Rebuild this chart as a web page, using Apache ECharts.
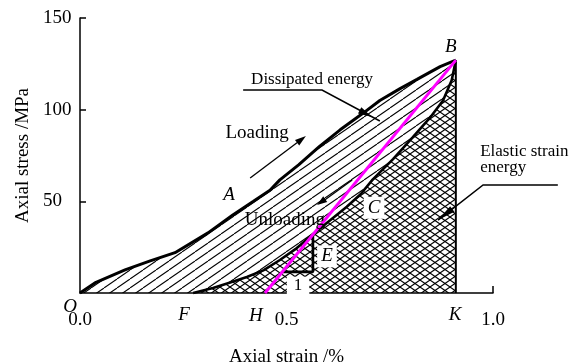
<!DOCTYPE html>
<html>
<head>
<meta charset="utf-8">
<script src="https://cdn.jsdelivr.net/npm/echarts@6/dist/echarts.min.js"></script>
<style>
html,body{margin:0;padding:0;background:#fff}
#c{width:581px;height:364px}
</style>
</head>
<body>
<div id="c"></div>
<script>
// Loading branch O -> B  [axial strain %, axial stress MPa]
const loadingCurve = [
  [0, 0], [0.036, 5.5], [0.109, 12.6], [0.17, 17.5], [0.23, 22], [0.31, 32.8],
  [0.37, 42.6], [0.42, 50], [0.46, 56], [0.484, 61.7], [0.53, 70], [0.58, 80],
  [0.63, 89], [0.685, 98], [0.726, 105], [0.775, 111.5], [0.816, 116.5],
  [0.872, 123.5], [0.91, 127]
];
// Unloading branch F -> B
const unloadingCurve = [
  [0.274, 0], [0.322, 2.7], [0.36, 5.5], [0.404, 8.7], [0.445, 12.5], [0.484, 18],
  [0.525, 24.5], [0.564, 32], [0.605, 39.5], [0.646, 47], [0.68, 54], [0.709, 62],
  [0.758, 73], [0.806, 85], [0.847, 95.5], [0.879, 105], [0.90, 116], [0.91, 127]
];
// Secant H -> B
const secantLine = [[0.448, 0], [0.91, 127]];
// Drop from peak B to K on the strain axis
const peakDrop = [[0.91, 127], [0.91, 0]];
// Slope triangle on the secant
const slopeTriangle = [[0.49, 11.5], [0.564, 11.5], [0.564, 32.5]];

const xTickValues = [0, 0.5, 1];
const yTickValues = [50, 100, 150];

// Point letters [text, strain, stress, boxed]
const pointLabels = [
  ['O', -0.024, -7.5, false],
  ['F', 0.252, -11.8, false],
  ['H', 0.426, -12.3, false],
  ['K', 0.908, -11.8, false],
  ['B', 0.898, 134.2, false],
  ['A', 0.361, 53.4, false],
  ['C', 0.712, 46.5, true],
  ['E', 0.598, 20.0, true]
];
const triangleLabel = ['1', 0.528, 4.0];

const SERIF = '"Liberation Serif","Times New Roman","DejaVu Serif",serif';

function hatchTile(w, h, cross) {
  const c = document.createElement('canvas');
  c.width = w; c.height = h;
  const g = c.getContext('2d');
  g.strokeStyle = '#000';
  g.lineWidth = 1.1;
  const line = (x0, y0, x1, y1) => { g.beginPath(); g.moveTo(x0, y0); g.lineTo(x1, y1); g.stroke(); };
  for (const dx of [-w, 0, w]) line(dx, h, dx + w, 0);
  if (cross) for (const dx of [-w, 0, w]) line(dx, 0, dx + w, h);
  return c;
}
const singleHatch = hatchTile(13, 9, false);
const crossHatch = hatchTile(10, 7, true);

const K = peakDrop[1][0];
const regions = [
  { pts: loadingCurve.concat(unloadingCurve.slice().reverse()), tile: singleHatch },
  { pts: unloadingCurve.concat([[K, 0]]), tile: crossHatch }
];

const chart = echarts.init(document.getElementById('c'), null, { renderer: 'canvas' });

const thick = (data, color, width, z) => ({
  type: 'line', data: data, showSymbol: false, symbol: 'none', silent: true,
  lineStyle: { color: color, width: width }, z: z, clip: false
});

chart.setOption({
  animation: false,
  grid: { left: 80, right: 88, top: 18, bottom: 71, containLabel: false, outerBoundsMode: 'none' },
  xAxis: {
    type: 'value', min: 0, max: 1, interval: 0.5,
    axisLine: { lineStyle: { color: '#000', width: 1.5 } },
    axisTick: { show: true, inside: true, length: 7, customValues: [1], lineStyle: { color: '#000', width: 1.5 } },
    axisLabel: { customValues: xTickValues, formatter: v => v.toFixed(1), color: '#000', fontSize: 19, fontFamily: SERIF, margin: 18 },
    splitLine: { show: false },
    name: 'Axial strain /%', nameLocation: 'middle', nameGap: 55,
    nameTextStyle: { color: '#000', fontSize: 19, fontFamily: SERIF }
  },
  yAxis: {
    type: 'value', min: 0, max: 150, interval: 50,
    axisLine: { show: true, lineStyle: { color: '#000', width: 1.5 } },
    axisTick: { show: true, inside: true, length: 6, customValues: yTickValues, lineStyle: { color: '#000', width: 1.5 } },
    axisLabel: { customValues: yTickValues, align: 'left', margin: 37, color: '#000', fontSize: 19, fontFamily: SERIF },
    splitLine: { show: false },
    name: 'Axial stress /MPa', nameLocation: 'middle', nameGap: 44,
    nameTextStyle: { color: '#000', fontSize: 19, fontFamily: SERIF }
  },
  series: [
    {
      type: 'custom', coordinateSystem: 'cartesian2d', silent: true, z: 1,
      data: [[0, 0], [1, 0]],
      renderItem: (params, api) => {
        const r = regions[params.dataIndex];
        return {
          type: 'polygon',
          shape: { points: r.pts.map(p => api.coord(p)) },
          style: { fill: { image: r.tile, repeat: 'repeat' }, stroke: null }
        };
      }
    },
    thick(peakDrop, '#000', 2, 4),
    thick(unloadingCurve, '#000', 2.6, 5),
    thick(loadingCurve, '#000', 3, 5),
    thick(slopeTriangle, '#000', 2.6, 5),
    thick(secantLine, '#ff00ff', 3, 6)
  ]
});

// Annotations placed in data coordinates
const P = p => chart.convertToPixel({ gridIndex: 0 }, p);

function arrowHead(tip, from, len, half) {
  const t = P(tip), f = P(from);
  const dx = t[0] - f[0], dy = t[1] - f[1];
  const d = Math.hypot(dx, dy), ux = dx / d, uy = dy / d;
  const bx = t[0] - ux * len, by = t[1] - uy * len;
  return {
    type: 'polygon', z: 10,
    shape: { points: [t, [bx - uy * half, by + ux * half], [bx + uy * half, by - ux * half]] },
    style: { fill: '#000' }
  };
}
function polyline(pts, w) {
  return { type: 'polyline', z: 10, shape: { points: pts.map(P) }, style: { stroke: '#000', lineWidth: w, fill: null } };
}
function text(str, p, size, opts) {
  const q = P(p);
  return {
    type: 'text', x: q[0], y: q[1], z: 10,
    style: Object.assign({ text: str, fill: '#000', font: size + 'px ' + SERIF, align: 'center', verticalAlign: 'middle' }, opts || {})
  };
}

const elements = [];
// leader lines
elements.push(polyline([[0.395, 110.7], [0.586, 110.7], [0.726, 93.8]], 1.5));
elements.push(arrowHead([0.707, 96.0], [0.586, 110.7], 14, 3.5));
elements.push(polyline([[1.157, 58.9], [0.976, 58.9], [0.867, 39.8]], 1.5));
elements.push(arrowHead([0.867, 39.8], [0.976, 58.9], 18, 3.5));
// loading / unloading arrows
elements.push(polyline([[0.412, 62.7], [0.535, 83.6]], 1.3));
elements.push(arrowHead([0.547, 85.6], [0.412, 62.7], 11, 3.5));
elements.push(polyline([[0.659, 61.6], [0.585, 49.5]], 1.3));
elements.push(arrowHead([0.574, 48.0], [0.659, 61.6], 10, 3.5));
// texts
elements.push(text('Dissipated energy', [0.562, 116.2], 17));
elements.push(text('Loading', [0.429, 87.3], 19));
elements.push(text('Unloading', [0.496, 39.8], 19));
elements.push(text('Elastic strain', [0.969, 77.4], 17, { align: 'left' }));
elements.push(text('energy', [0.969, 68.7], 17, { align: 'left' }));
pointLabels.forEach(([s, x, y, boxed]) => {
  elements.push(text(s, [x, y], 19, Object.assign(
    { font: 'italic 19px ' + SERIF },
    boxed ? { backgroundColor: '#fff', padding: [2, 4, 1, 4] } : {}
  )));
});
elements.push(text(triangleLabel[0], [triangleLabel[1], triangleLabel[2]], 17, { backgroundColor: '#fff', padding: [1, 7, 0, 7] }));

chart.setOption({ graphic: { elements: elements } });
</script>
</body>
</html>
